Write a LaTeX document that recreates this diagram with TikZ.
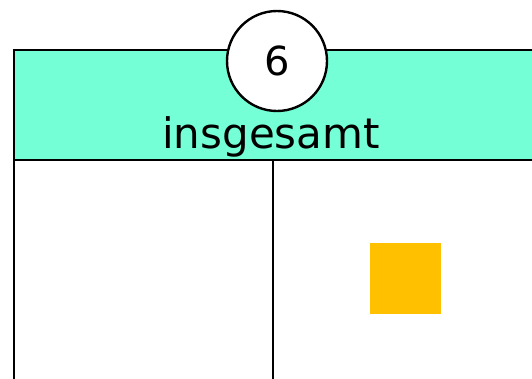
\documentclass[tikz,border=0pt]{standalone}
\usepackage{fontspec}
\setmainfont{DejaVu Sans}
\usepackage{tikz}
\usetikzlibrary{positioning,calc}

\definecolor{bandmint}{RGB}{117,255,214}
\definecolor{tileorange}{RGB}{255,192,0}

\begin{document}
\begin{tikzpicture}[
    x=1pt, y=-1pt,
    frame/.style={draw=black, line width=2.4pt},
    numcircle/.style={circle, draw=black, line width=2.4pt, fill=white, minimum size=100pt, inner sep=0pt, font=\fontsize{40}{40}\selectfont},
    headtext/.style={font=\fontsize{42}{42}\selectfont, inner sep=0pt, anchor=base},
    tile/.style={rectangle, fill=tileorange, minimum size=71pt, inner sep=0pt}
]
    \useasboundingbox (0,0) rectangle (532,378);
    \clip (0,0) rectangle (532,378);

    % Header band
    \fill[bandmint] (14,50) rectangle (545,160);
    \draw[frame] (545,50) -- (14,50) -- (14,390);
    \draw[frame] (14,160) -- (545,160);

    % Column divider
    \coordinate (divtop) at (273,160);
    \coordinate (divbot) at (273,390);
    \draw[frame] (divtop) -- (divbot);

    % Labels
    \node[numcircle] (total) at (277,61) {6};
    \node[headtext] (label) at (271,148) {insgesamt};

    % Counter tile
    \node[tile] (counter) at (405.5,278.5) {};
\end{tikzpicture}
\end{document}
